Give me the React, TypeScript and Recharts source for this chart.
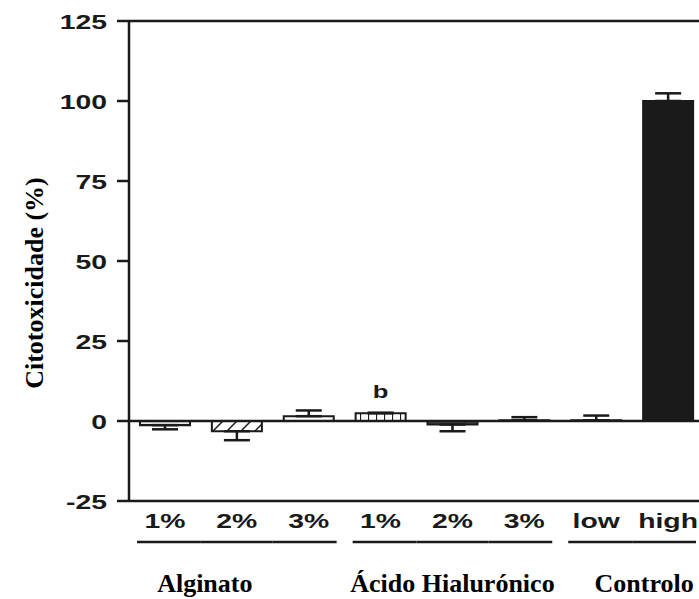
import { BarChart, Bar, Cell, XAxis, YAxis, ErrorBar, LabelList, ReferenceLine } from "recharts";

const labels = ["1%", "2%", "3%", "1%", "2%", "3%", "low", "high"];
const groupOf = [0, 0, 0, 1, 1, 1, 2, 2];
const groups = ["Alginato", "Ácido Hialurónico", "Controlo"];
const means = [-1.3, -3.2, 1.5, 2.4, -1.1, 0.2, 0.2, 100];
const errDown = [1.3, 2.8, 0, 0, 2.1, 0, 0, 0];
const errUp = [0, 0, 1.8, 0.2, 0, 1.0, 1.5, 2.4];
const sig = ["", "", "", "b", "", "", "", ""];
const yTicks = [-25, 0, 25, 50, 75, 100, 125];

const INK = "#1a1a1a";
const SANS = "'Liberation Sans', Arial, sans-serif";
const SERIF = "'Liberation Serif', 'Times New Roman', serif";
const STRETCH = 1.35;

const W = 704;
const H = 599;
const LEFT = 129;
const TOP = 21;
const XH = 98;
const BAND = (W - LEFT) / labels.length;
// group captions are not centred on their groups in the original
const GROUP_NUDGE = [-32, 0, 12];

// fills per bar, pattern ids defined in <defs>
const FILLS = ["url(#hstripe)", "url(#diag)", "#fff", "url(#brick)", "url(#dash)", "#fff", "#fff", INK];

const data = labels.map((label, i) => ({
  label,
  value: means[i],
  err: [errDown[i], errUp[i]],
  sig: sig[i],
}));

const YTick = ({ x, y, payload }: any) => (
  <text
    transform={`translate(${x},${y + 7.5}) scale(${STRETCH},1)`}
    textAnchor="end"
    fontFamily={SANS}
    fontWeight="bold"
    fontSize={21}
    fill={INK}
  >
    {payload.value}
  </text>
);

const XTick = ({ x, y, payload }: any) => {
  const i = payload.index;
  const g = groupOf[i];
  const first = i === 0 || groupOf[i - 1] !== g;
  const last = i === labels.length - 1 || groupOf[i + 1] !== g;
  const x1 = x - BAND / 2 + (first ? 8 : 0);
  const x2 = x + BAND / 2 - (last ? 8 : 0);
  const n = groupOf.filter((v) => v === g).length;
  return (
    <g>
      <text
        transform={`translate(${x},${y + 27}) scale(${STRETCH},1)`}
        textAnchor="middle"
        fontFamily={SANS}
        fontWeight="bold"
        fontSize={21}
        fill={INK}
      >
        {payload.value}
      </text>
      <line x1={x1} x2={x2} y1={y + 41} y2={y + 41} stroke={INK} strokeWidth={2.5} />
      {first && (
        <text
          x={x + ((n - 1) / 2) * BAND + GROUP_NUDGE[g]}
          y={y + 91}
          textAnchor="middle"
          fontFamily={SERIF}
          fontWeight="bold"
          fontSize={26}
          fill="#000"
        >
          {groups[g]}
        </text>
      )}
    </g>
  );
};

const YLabel = ({ viewBox }: any) => {
  const cy = viewBox.y + viewBox.height / 2 + 22;
  return (
    <text
      transform={`translate(43,${cy}) rotate(-90)`}
      textAnchor="middle"
      fontFamily={SERIF}
      fontWeight="bold"
      fontSize={26}
      fill="#000"
    >
      Citotoxicidade (%)
    </text>
  );
};

const SigLabel = ({ x, y, width, value }: any) =>
  value ? (
    <text
      transform={`translate(${x + width / 2},${y - 15}) scale(${STRETCH},1)`}
      textAnchor="middle"
      fontFamily={SANS}
      fontWeight="bold"
      fontSize={19}
      fill={INK}
    >
      {value}
    </text>
  ) : null;

export default function App() {
  return (
    <div style={{ position: "absolute", left: 0, top: 0, width: 699, height: H, overflow: "hidden", background: "#fff" }}>
      <BarChart width={W} height={H} data={data} margin={{ top: TOP, right: 0, left: 0, bottom: 0 }}>
        <defs>
          <pattern id="hstripe" patternUnits="userSpaceOnUse" width={4} height={3}>
            <rect width={4} height={3} fill="#fff" />
            <line x1={0} x2={4} y1={1.5} y2={1.5} stroke={INK} strokeWidth={1.2} />
          </pattern>
          <pattern id="diag" patternUnits="userSpaceOnUse" width={14} height={14}>
            <rect width={14} height={14} fill="#fff" />
            <line x1={0} y1={14} x2={14} y2={0} stroke={INK} strokeWidth={1.5} />
          </pattern>
          <pattern id="brick" patternUnits="userSpaceOnUse" width={8} height={4}>
            <rect width={8} height={4} fill="#fff" />
            <line x1={0.5} x2={0.5} y1={0} y2={4} stroke={INK} strokeWidth={1.2} />
          </pattern>
          <pattern id="dash" patternUnits="userSpaceOnUse" width={6} height={3}>
            <rect width={6} height={3} fill="#444" />
            <rect x={4} y={1} width={2} height={1} fill="#bbb" />
          </pattern>
        </defs>
        <ReferenceLine y={125} stroke={INK} strokeWidth={2.5} />
        <ReferenceLine y={0} stroke={INK} strokeWidth={2.5} />
        <XAxis
          dataKey="label"
          height={XH}
          interval={0}
          tickLine={false}
          tickSize={0}
          tickMargin={0}
          axisLine={{ stroke: INK, strokeWidth: 2.5 }}
          tick={<XTick />}
        />
        <YAxis
          width={LEFT}
          domain={[-25, 125]}
          ticks={yTicks}
          interval={0}
          tickSize={12}
          tickMargin={10}
          axisLine={{ stroke: INK, strokeWidth: 2.5 }}
          tickLine={{ stroke: INK, strokeWidth: 2.5 }}
          tick={<YTick />}
          label={<YLabel />}
        />
        <Bar dataKey="value" barSize={50} stroke={INK} strokeWidth={2} isAnimationActive={false}>
          {data.map((d, i) => (
            <Cell key={i} fill={FILLS[i]} />
          ))}
          <ErrorBar dataKey="err" direction="y" width={13} stroke={INK} strokeWidth={2.5} />
          <LabelList dataKey="sig" content={<SigLabel />} />
        </Bar>
      </BarChart>
    </div>
  );
}
